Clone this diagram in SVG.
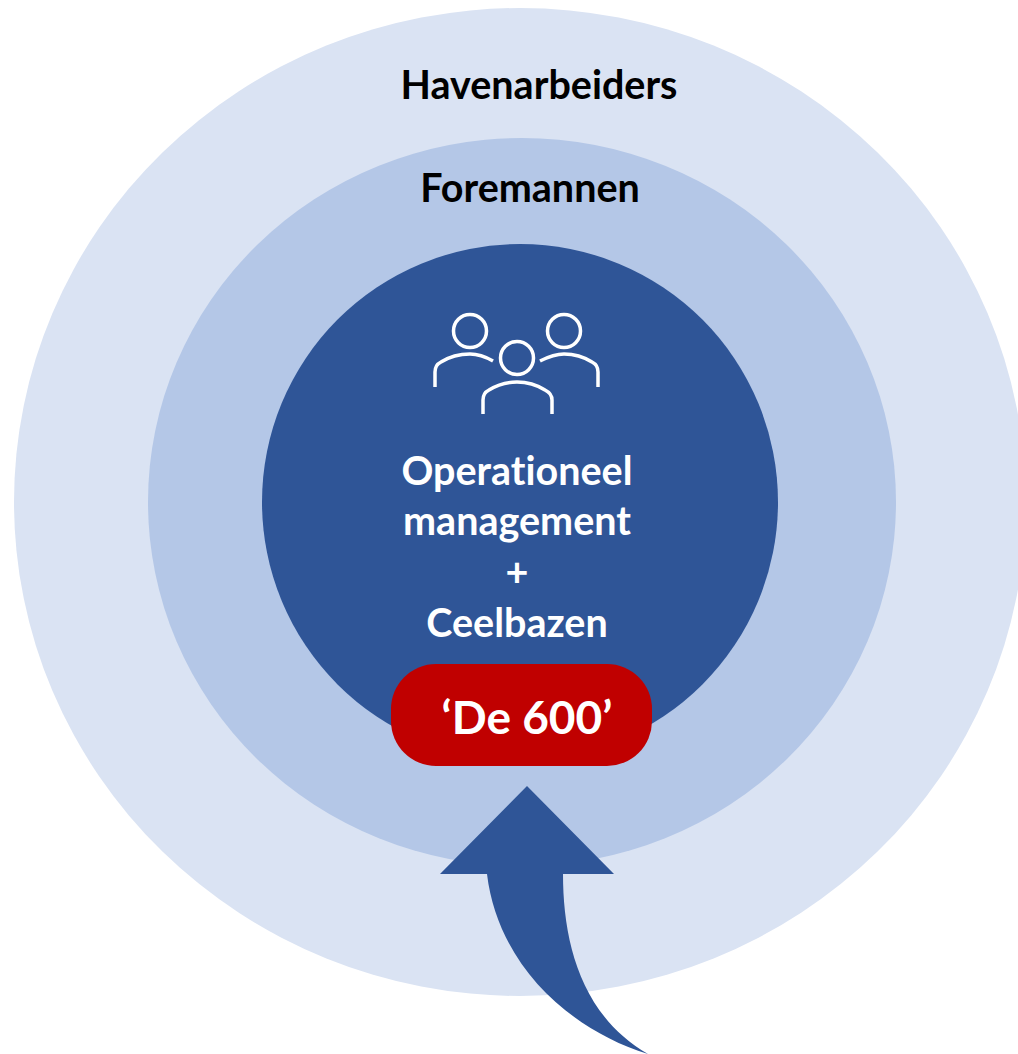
<svg xmlns="http://www.w3.org/2000/svg" width="1018" height="1054" viewBox="0 0 1018 1054">
<style>
text{font-family:"Lato","Open Sans",sans-serif;font-weight:700;text-anchor:middle;font-variant-ligatures:none}
.k{fill:#000;font-size:39.500px}.w{fill:#fff;font-size:39.500px}
.i{fill:none;stroke:#fff;stroke-width:3.500}
</style>
<rect width="1018" height="1054" fill="#fff"/>
<g id="havenarbeiders"><ellipse cx="520" cy="502" rx="506" ry="494" fill="#dae3f3"/><text class="k" x="539" y="98.500">Havenarbeiders</text></g>
<g id="foremannen"><ellipse cx="522" cy="502" rx="374" ry="364" fill="#b4c7e7"/><text class="k" x="530" y="201.500">Foremannen</text></g>
<g id="management"><circle cx="520" cy="502" r="258" fill="#2f5597"/>
<g id="icon"><circle class="i" cx="470" cy="331" r="16.500"/><circle class="i" cx="564" cy="331" r="16.500"/><circle class="i" cx="517" cy="358" r="16.500"/>
<path class="i" d="M435 387V372C435 367 437 364 441 362C449 357 459 354 470 354C478 354 486 357 493 361"/><path class="i" d="M598 387V372C598 367 596 364 592 362C584 357 574 354 564 354C556 354 548 357 540 361"/><path class="i" d="M483 414V400C483 395 485 392 489 390C497 385 507 382 517 382C527 382 537 385 545 390C549 392 552 395 552 400V414"/></g>
<text class="w" x="517" y="484.500">Operationeel</text><text class="w" x="517" y="535">management</text><text class="w" x="517" y="586">+</text><text class="w" x="517" y="637">Ceelbazen</text></g>
<g id="de600"><rect x="391" y="664" width="261" height="102" rx="45" fill="#c00000"/><text x="527" y="733.500" fill="#fff" style="font-size:46px">‘De 600’</text></g>
<g id="connectors"><path d="M527 786L614 874H563C563 940 580 1015 648 1054C570 1030 498 965 487 874H440Z" fill="#2f5597"/></g>
</svg>
